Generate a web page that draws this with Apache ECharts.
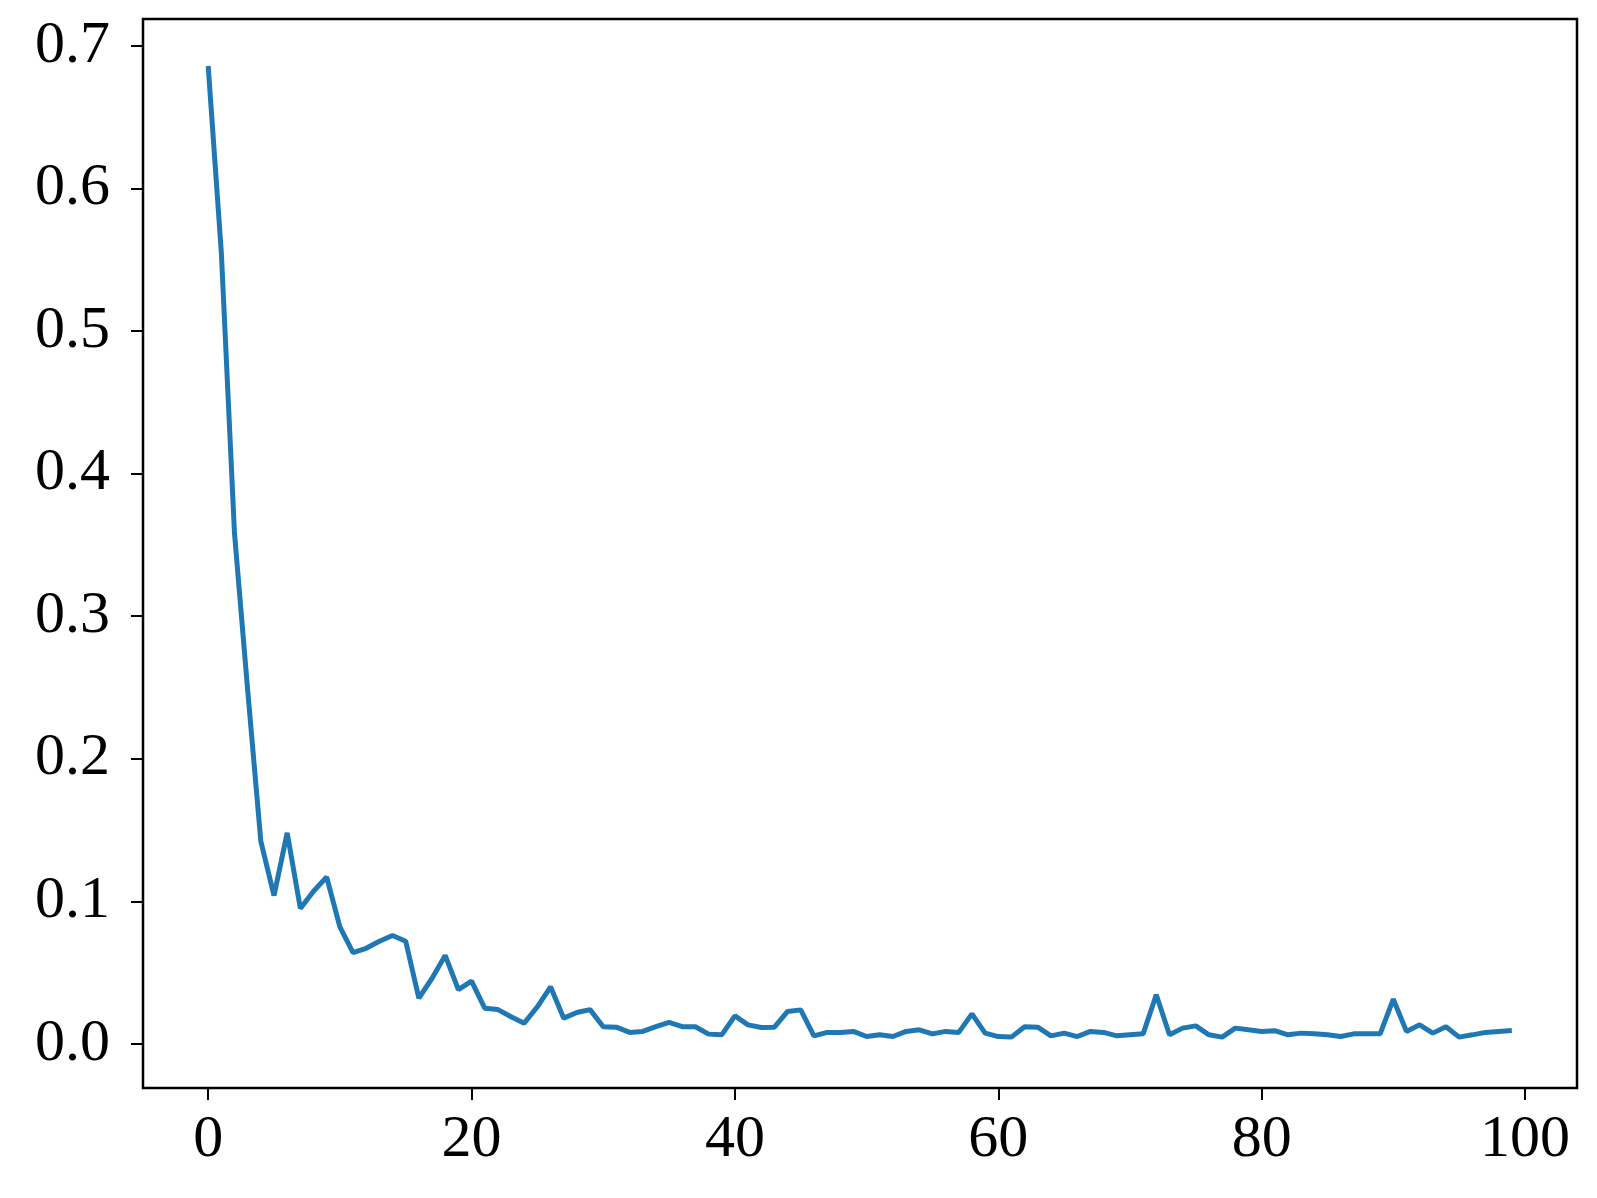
<!DOCTYPE html>
<html>
<head>
<meta charset="utf-8">
<title>Loss curve</title>
<script src="https://cdn.jsdelivr.net/npm/echarts@6/dist/echarts.min.js"></script>
<style>
  html, body { margin: 0; padding: 0; background: #ffffff; }
  #chart { width: 1597px; height: 1198px; }
</style>
</head>
<body>
<div id="chart"></div>
<script>
// epoch index along the x axis
var epochs = [
  0, 1, 2, 3, 4, 5, 6, 7, 8, 9, 10, 11, 12, 13, 14, 15, 16, 17, 18, 19,
  20, 21, 22, 23, 24, 25, 26, 27, 28, 29, 30, 31, 32, 33, 34, 35, 36, 37, 38, 39,
  40, 41, 42, 43, 44, 45, 46, 47, 48, 49, 50, 51, 52, 53, 54, 55, 56, 57, 58, 59,
  60, 61, 62, 63, 64, 65, 66, 67, 68, 69, 70, 71, 72, 73, 74, 75, 76, 77, 78, 79,
  80, 81, 82, 83, 84, 85, 86, 87, 88, 89, 90, 91, 92, 93, 94, 95, 96, 97, 98, 99
];

// values
var loss = [
  0.686, 0.555, 0.358, 0.248, 0.142, 0.104, 0.148, 0.095, 0.107, 0.117,
  0.082, 0.064, 0.067, 0.072, 0.076, 0.072, 0.032, 0.046, 0.062, 0.038,
  0.044, 0.025, 0.024, 0.019, 0.0145, 0.026, 0.040, 0.018, 0.022, 0.024,
  0.012, 0.0117, 0.008, 0.0087, 0.012, 0.015, 0.012, 0.012, 0.0068, 0.0063,
  0.0196, 0.0133, 0.0114, 0.0117, 0.0227, 0.0238, 0.0056, 0.008, 0.008, 0.0087,
  0.0051, 0.0063, 0.0051, 0.0087, 0.0098, 0.007, 0.0087, 0.008, 0.021, 0.0075,
  0.0051, 0.0047, 0.012, 0.0117, 0.0056, 0.0075, 0.0051, 0.0087, 0.008, 0.0056,
  0.0063, 0.007, 0.0344, 0.0063, 0.011, 0.0126, 0.0063, 0.0047, 0.011, 0.0098,
  0.0087, 0.0092, 0.0063, 0.0075, 0.007, 0.0063, 0.0051, 0.007, 0.007, 0.007,
  0.0313, 0.0087, 0.0133, 0.0075, 0.012, 0.0047, 0.0063, 0.008, 0.0087, 0.0093
];

var xTicks = [0, 20, 40, 60, 80, 100];
var yTicks = [0, 0.1, 0.2, 0.3, 0.4, 0.5, 0.6, 0.7];

var chart = echarts.init(document.getElementById("chart"));

var points = [];
for (var i = 0; i < epochs.length; i++) {
  points.push([epochs[i], loss[i]]);
}

var font = "'Liberation Serif', 'Times New Roman', serif";

chart.setOption({
  backgroundColor: "#ffffff",
  animation: false,
  grid: {
    show: true,
    left: 143,
    right: 20,
    top: 19,
    bottom: 110,
    borderColor: "#000000",
    borderWidth: 2.5,
    backgroundColor: "#ffffff"
  },
  xAxis: {
    type: "value",
    min: -4.95,
    max: 103.95,
    splitLine: { show: false },
    axisLine: { show: false, onZero: false },
    axisTick: {
      show: true,
      length: 12,
      customValues: xTicks,
      lineStyle: { color: "#000000", width: 2 }
    },
    axisLabel: {
      customValues: xTicks,
      margin: 22,
      color: "#000000",
      fontFamily: font,
      fontSize: 60
    }
  },
  yAxis: {
    type: "value",
    min: -0.031,
    max: 0.719,
    splitLine: { show: false },
    axisLine: { show: false, onZero: false },
    axisTick: {
      show: true,
      length: 12,
      customValues: yTicks,
      lineStyle: { color: "#000000", width: 2 }
    },
    axisLabel: {
      customValues: yTicks,
      margin: 33,
      color: "#000000",
      fontFamily: font,
      fontSize: 60,
      formatter: function(v) {
        return v.toFixed(1);
      }
    }
  },
  series: [
    {
      type: "line",
      data: points,
      symbol: "none",
      lineStyle: { color: "#1f77b4", width: 5 }
    }
  ]
});
</script>
</body>
</html>
